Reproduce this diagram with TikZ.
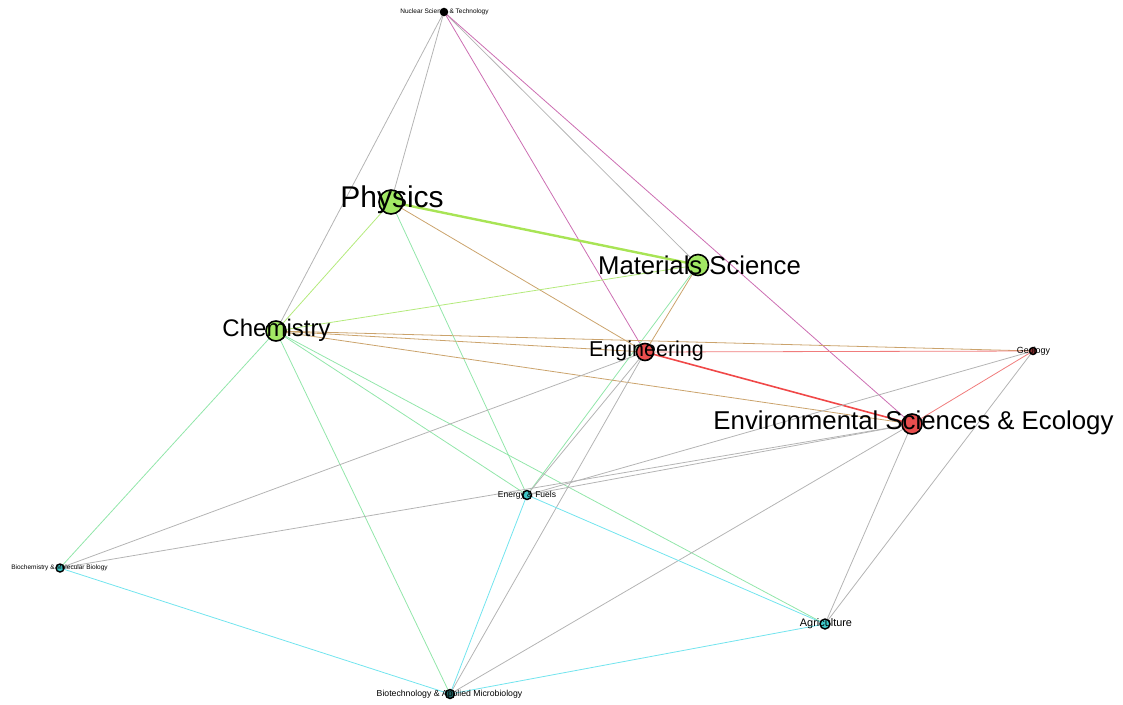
\documentclass[tikz,border=0pt]{standalone}
\usepackage{fontspec}
\setmainfont{Liberation Sans}
\definecolor{cgray}{HTML}{B4B4B4}
\definecolor{cgreen}{HTML}{B4EA7C}
\definecolor{clime}{HTML}{A8E455}
\definecolor{ctan}{HTML}{CBA36C}
\definecolor{cmint}{HTML}{92E6AA}
\definecolor{ccyan}{HTML}{72E4EE}
\definecolor{cpink}{HTML}{CC6EB2}
\definecolor{cred}{HTML}{F04848}
\definecolor{cred2}{HTML}{F07C7C}
\definecolor{ngreen}{HTML}{A2E864}
\definecolor{nred}{HTML}{E84E4E}
\definecolor{nteal}{HTML}{3EC6C6}
\tikzset{
  edge/.style={line width=0.8pt},
  vert/.style={circle, draw=black, line width=1.6pt, inner sep=0pt},
  smallvert/.style={circle, draw=black, line width=1.4pt, inner sep=0pt, minimum size=8pt},
  lab/.style={inner sep=0pt, text=black},
}
\begin{document}
\begin{tikzpicture}[x=1pt,y=-1pt]
\useasboundingbox (0,0) rectangle (1123,704);
% node centres
\coordinate (nuc) at (444,12);
\coordinate (phys) at (391,202);
\coordinate (mat) at (698,265);
\coordinate (chem) at (276,331);
\coordinate (eng) at (645,352);
\coordinate (geo) at (1033,351);
\coordinate (env) at (912,424);
\coordinate (energy) at (527,495);
\coordinate (biochem) at (60,568);
\coordinate (agri) at (825,624);
\coordinate (biotech) at (450,694);
% edges
\draw[edge,cgray] (nuc) -- (chem);
\draw[edge,cgray] (nuc) -- (phys);
\draw[edge,cgray] (nuc) -- (mat);
\draw[edge,cpink] (nuc) -- (eng);
\draw[edge,cpink] (nuc) -- (env);
\draw[clime,line width=2.4pt] (phys) -- (mat);
\draw[edge,cgreen] (phys) -- (chem);
\draw[edge,ctan] (phys) -- (eng);
\draw[edge,cmint] (phys) -- (energy);
\draw[edge,cgreen] (mat) -- (chem);
\draw[edge,ctan] (mat) -- (eng);
\draw[edge,cmint] (mat) -- (energy);
\draw[edge,ctan] (chem) -- (eng);
\draw[edge,ctan] (chem) -- (geo);
\draw[edge,ctan] (chem) -- (env);
\draw[edge,cmint] (chem) -- (energy);
\draw[edge,cmint] (chem) -- (agri);
\draw[edge,cmint] (chem) -- (biochem);
\draw[edge,cmint] (chem) -- (biotech);
\draw[edge,cred2] (eng) -- (geo);
\draw[cred,line width=1.6pt] (eng) -- (env);
\draw[edge,cgray] (eng) -- (biochem);
\draw[edge,cgray] (eng) -- (biotech);
\draw[edge,cgray] (eng) -- (energy);
\draw[edge,cred2] (env) -- (geo);
\draw[edge,cgray] (env) -- (energy);
\draw[edge,cgray] (env) -- (biochem);
\draw[edge,cgray] (env) -- (agri);
\draw[edge,cgray] (env) -- (biotech);
\draw[edge,cgray] (geo) -- (energy);
\draw[edge,cgray] (geo) -- (agri);
\draw[edge,ccyan] (energy) -- (agri);
\draw[edge,ccyan] (energy) -- (biotech);
\draw[edge,ccyan] (biochem) -- (biotech);
\draw[edge,ccyan] (agri) -- (biotech);
% vertices
\node[vert, fill=ngreen, minimum size=24pt] (vphys) at (phys) {};
\node[vert, fill=ngreen, minimum size=21pt] (vmat) at (mat) {};
\node[vert, fill=ngreen, minimum size=20pt] (vchem) at (chem) {};
\node[vert, fill=nred, minimum size=17pt] (veng) at (eng) {};
\node[vert, fill=nred, minimum size=20pt] (venv) at (env) {};
\node[smallvert, fill=nred!60!black, minimum size=7pt] (vgeo) at (geo) {};
\node[smallvert, fill=black, minimum size=7pt] (vnuc) at (nuc) {};
\node[smallvert, fill=nteal, minimum size=9pt] (venergy) at (energy) {};
\node[smallvert, fill=nteal, minimum size=8pt] (vbiochem) at (biochem) {};
\node[smallvert, fill=nteal, minimum size=10pt] (vagri) at (agri) {};
\node[smallvert, fill=nteal!50!black, minimum size=9pt] (vbiotech) at (biotech) {};
% labels
\node[lab, font=\fontsize{30}{30}\selectfont] (lphys) at (392,200) {Physics};
\node[lab, font=\fontsize{25.7}{26}\selectfont] (lmat) at (699.5,265) {Materials Science};
\node[lab, font=\fontsize{24}{24}\selectfont] (lchem) at (276.5,330) {Chemistry};
\node[lab, font=\fontsize{21.5}{22}\selectfont] (leng) at (646.5,351) {Engineering};
\node[lab, font=\fontsize{25.8}{26}\selectfont] (lenv) at (913.5,423) {Environmental Sciences \& Ecology};
\node[lab, font=\fontsize{8.9}{9}\selectfont] (lgeo) at (1033.5,351) {Geology};
\node[lab, font=\fontsize{6.5}{7}\selectfont] (lnuc) at (444.5,12) {Nuclear Science \& Technology};
\node[lab, font=\fontsize{8.5}{9}\selectfont] (lenergy) at (527,495) {Energy \& Fuels};
\node[lab, font=\fontsize{6.5}{7}\selectfont] (lbiochem) at (59.5,568) {Biochemistry \& Molecular Biology};
\node[lab, font=\fontsize{10.9}{11}\selectfont] (lagri) at (826,624) {Agriculture};
\node[lab, font=\fontsize{8.7}{9}\selectfont] (lbiotech) at (449.5,694) {Biotechnology \& Applied Microbiology};
\end{tikzpicture}
\end{document}
